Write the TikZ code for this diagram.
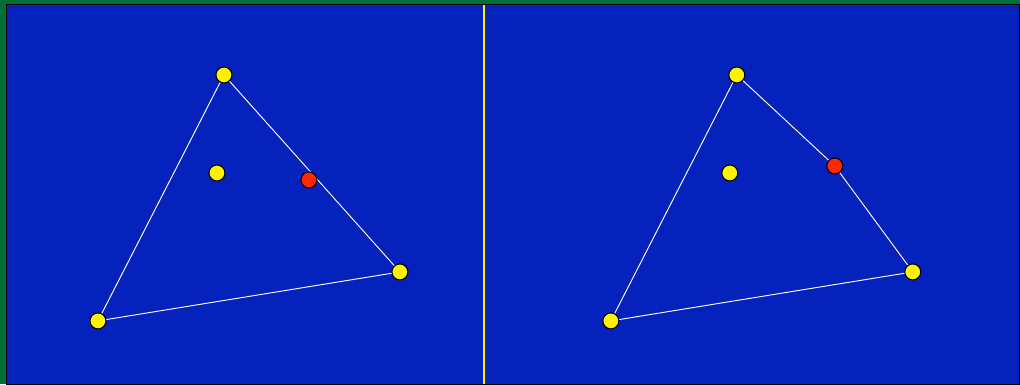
\documentclass[tikz,border=0pt]{standalone}
\definecolor{panelblue}{RGB}{6,34,188}
\definecolor{framegreen}{RGB}{0,112,56}
\definecolor{dotred}{RGB}{255,40,0}
\tikzset{
  ydot/.style={circle,draw=black,fill=yellow,line width=0.8pt,inner sep=0pt,minimum size=12pt},
  rdot/.style={circle,draw=black,fill=dotred,line width=0.8pt,inner sep=0pt,minimum size=12pt},
  edge/.style={white,line width=0.7pt}
}
\begin{document}
\begin{tikzpicture}[x=0.75pt,y=-0.75pt]
    % Frame and panels
    \fill[framegreen] (0,0) rectangle (1020,384);
    \fill[panelblue,draw=black] (6.5,4.5) rectangle (1020,384);
    \draw[yellow,line width=1.2pt] (484,5) -- (484,384);
    \useasboundingbox (0,0) rectangle (1020,384);

    % Left triangle
    \node[ydot] (la) at (224,75) {};
    \node[ydot] (lb) at (98,321) {};
    \node[ydot] (lc) at (400,272) {};
    \node[ydot] (lp) at (217,173) {};
    \draw[edge] (la) -- (lb) -- (lc) -- (la);
    \node[rdot] (lq) at (309,180) {};

    % Right triangle
    \node[ydot] (ra) at (737,75) {};
    \node[ydot] (rb) at (611,321) {};
    \node[ydot] (rc) at (913,272) {};
    \node[ydot] (rp) at (730,173) {};
    \node[rdot] (rq) at (835,166) {};
    \draw[edge] (ra) -- (rb) -- (rc) -- (rq) -- (ra);
\end{tikzpicture}
\end{document}
